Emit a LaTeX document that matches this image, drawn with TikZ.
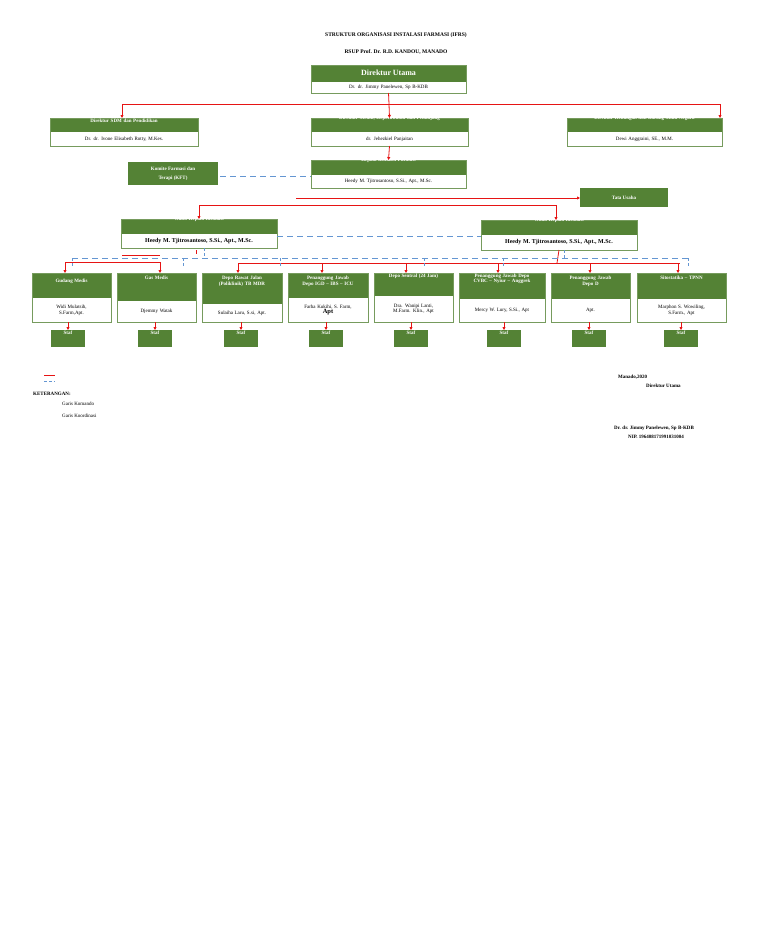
\documentclass[tikz,border=0pt]{standalone}
\usepackage{fontspec}
\setmainfont{Liberation Serif}
\usetikzlibrary{arrows.meta}
\begin{document}
\begin{tikzpicture}[x=1pt,y=-1pt,
 txt/.style={font=\fontsize{5}{5.6}\selectfont,align=center,inner sep=0},
 wt/.style={txt,text=white,font=\fontsize{5}{5.6}\selectfont\bfseries},
 cmd/.style={draw=cmdcol,line width=0.8pt},
 cmdar/.style={cmd,-{Triangle[length=3pt,width=3pt]}},
 blu/.style={draw=bluecol,line width=0.7pt,dash pattern=on 6pt off 4pt}]
\definecolor{gcol}{RGB}{84,130,53}
\definecolor{cmdcol}{RGB}{230,20,20}
\definecolor{bluecol}{RGB}{100,150,210}
\useasboundingbox (0,0) rectangle (768,932);
\newcommand{\obox}[9]{% name x1 y1 x2 y2 ymid title body offset
 \fill[gcol] (#2,#3) rectangle (#4,#6);
 \draw[gcol!80,line width=0.8pt] (#2,#3) rectangle (#4,#5);
 \node[coordinate] (#1) at ({(#2+#4)/2},{(#3+#5)/2}) {};
 \node[coordinate] (#1n) at ({(#2+#4)/2},#3) {};
 \node[coordinate] (#1s) at ({(#2+#4)/2},#5) {};
 \node[wt,text width={(#4-#2-4)*1pt}] (#1t) at ({(#2+#4)/2},{#3+#9}) {#7};
 \node[txt,text width={(#4-#2-4)*1pt}] (#1b) at ({(#2+#4)/2},{(#6+#5)/2}) {#8};}
\node[txt,font=\fontsize{5.5}{6}\selectfont\bfseries] (t1) at (396,35) {STRUKTUR ORGANISASI INSTALASI FARMASI (IFRS)};
\node[txt,font=\fontsize{5.5}{6}\selectfont\bfseries] (t2) at (396,52) {RSUP Prof. Dr. R.D. KANDOU, MANADO};
\obox{du}{311}{65}{466}{93}{82}{\fontsize{8}{9}\selectfont Direktur Utama}{Dr. dr. Jimmy Panelewen, Sp B-KDB}{8}
\obox{sdm}{50}{118}{198}{146}{132}{Direktur SDM dan Pendidikan}{Dr. dr. Ivone Elisabeth Rotty, M.Kes.}{3}
\obox{med}{311}{118}{468}{146}{132}{Direktur Medik, Keperawatan dan Penunjang}{dr. Jehezkiel Panjaitan}{0}
\obox{keu}{567}{118}{722}{146}{132}{Direktur Keuangan dan Barang Milik Negara}{Dewi Anggraini, SE., M.M.}{0}
\obox{kep}{311}{160}{466}{188}{175}{Kepala Instalasi Farmasi}{Heedy M. Tjitrosantoso, S.Si., Apt., M.Sc.}{0}
\obox{wl}{121}{219}{277}{248}{234}{Wakil Kepala Instalasi}{\bfseries\fontsize{6}{6.5}\selectfont Heedy M. Tjitrosantoso, S.Si., Apt., M.Sc.}{0}
\obox{wr}{481}{220}{637}{250}{235}{Wakil Kepala Instalasi}{\bfseries\fontsize{6}{6.5}\selectfont Heedy M. Tjitrosantoso, S.Si., Apt., M.Sc.}{0}
\fill[gcol] (128,162) rectangle (218,185);
\node[wt] (kft) at (173,173.5) {Komite Farmasi dan\\[3pt]Terapi (KFT)};
\fill[gcol] (580,188) rectangle (668,207);
\node[wt] (tu) at (624,197.5) {Tata Usaha};
\coordinate (tuw) at (580,198);
\obox{ra}{32}{273}{111}{322}{298}{Gudang Medis}{Widi Mulatsih,\\S.Farm,Apt.}{8}
\obox{rb}{117}{273}{196}{322}{301}{Gas Medis}{Djemmy Watak}{5}
\obox{rc}{202}{273}{282}{322}{304}{Depo Rawat Jalan\\(Poliklinik) TB MDR}{Sulaiha Laru, S.si, Apt.}{8}
\obox{rd}{288}{273}{368}{322}{298}{Penanggung Jawab\\Depo IGD -- IBS -- ICU}{Farha Kukihi, S. Farm,\\{\fontsize{6.5}{7.5}\selectfont\bfseries Apt}}{8}
\obox{re}{374}{273}{453}{322}{296}{Depo Sentral (24 Jam)}{Dra. Wanipi Lanti,\\M.Farm. Klin., Apt}{3}
\obox{rf}{459}{273}{545}{322}{299}{Penanggung Jawab Depo\\CVBC -- Nyiur -- Anggrek}{Mercy W. Lury, S.Si., Apt}{6}
\obox{rg}{551}{273}{630}{322}{299}{Penanggung Jawab\\Depo D}{Apt.}{8}
\obox{rh}{637}{273}{726}{322}{299}{Sitostatika -- TPNN}{Marphon S. Wowiling,\\S.Farm., Apt}{5}
\foreach \i/\x in {a/68,b/155,c/241,d/326,e/411,f/504,g/589,h/681}{
 \fill[gcol] (\x-17,330) rectangle (\x+17,347);
 \node[wt] (s\i) at (\x,332.5) {Staf};
 \draw[cmdar] (\x,322) -- (\x,330);}
% red command lines
\draw[cmd] (dus) -- (389,104) coordinate (j1);
\draw[cmdar] (j1) -| (122,118);
\draw[cmdar] (j1) -- (medn);
\draw[cmdar] (j1) -| (720,118);
\draw[cmdar] (meds) -- (kepn);
\coordinate (tl) at (296,198);
\draw[cmdar] (tl) -- (tuw);
\coordinate (w1) at (199,205); \coordinate (w2) at (556,205);
\draw[cmdar] (w1) -- (199,219);
\draw[cmdar] (w2) -- (556,220);
\draw[cmd] (w1) -- (w2);
\draw[cmd] (65,262) -- (160,262);
\draw[cmd] (122,255) -- (160,255);
\draw[cmd] (196,250) -- (196,254);
\draw[cmdar] (65,262) -- (65,273);
\draw[cmdar] (160,262) -- (160,273);
\draw[cmd] (wrs) -- (557,263);
\draw[cmd] (238,263) -- (680,263);
\foreach \x in {238,322,406,498,590,678}{\draw[cmdar] (\x,263) -- (\x,273);}
% blue coordination lines
\draw[blu] (220,176) -- (311,176);
\draw[blu] (277,236) -- (481,236);
\draw[blu] (72,258) -- (688,258);
\foreach \x in {72,183,280,424,503,688}{\draw[blu,dash pattern=on 3pt off 2pt] (\x,258) -- (\x,266);}
\draw[blu,dash pattern=on 3pt off 2pt] (204,248) -- (204,258);
\draw[blu,dash pattern=on 3pt off 2pt] (564,250) -- (564,258);
% legend
\draw[cmd] (44,375) -- (55,375);
\draw[blu,dash pattern=on 3pt off 2pt] (44,381) -- (55,381);
\node[txt,anchor=west,font=\fontsize{5}{5.6}\selectfont\bfseries] (k) at (33,394) {KETERANGAN:};
\node[txt,anchor=west] (k1) at (62,404) {Garis Komando};
\node[txt,anchor=west] (k2) at (62,416) {Garis Koordinasi};
\node[txt,anchor=west,font=\fontsize{5}{5.6}\selectfont\bfseries] (m1) at (618,377) {Manado,2020};
\node[txt,anchor=west,font=\fontsize{5}{5.6}\selectfont\bfseries] (m2) at (646,386) {Direktur Utama};
\node[txt,anchor=west,font=\fontsize{5}{5.6}\selectfont\bfseries] (m3) at (614,428) {Dr. dr. Jimmy Panelewen, Sp B-KDB};
\node[txt,anchor=west,font=\fontsize{5}{5.6}\selectfont\bfseries] (m4) at (628,437) {NIP. 196408171991031004};
\end{tikzpicture}
\end{document}
